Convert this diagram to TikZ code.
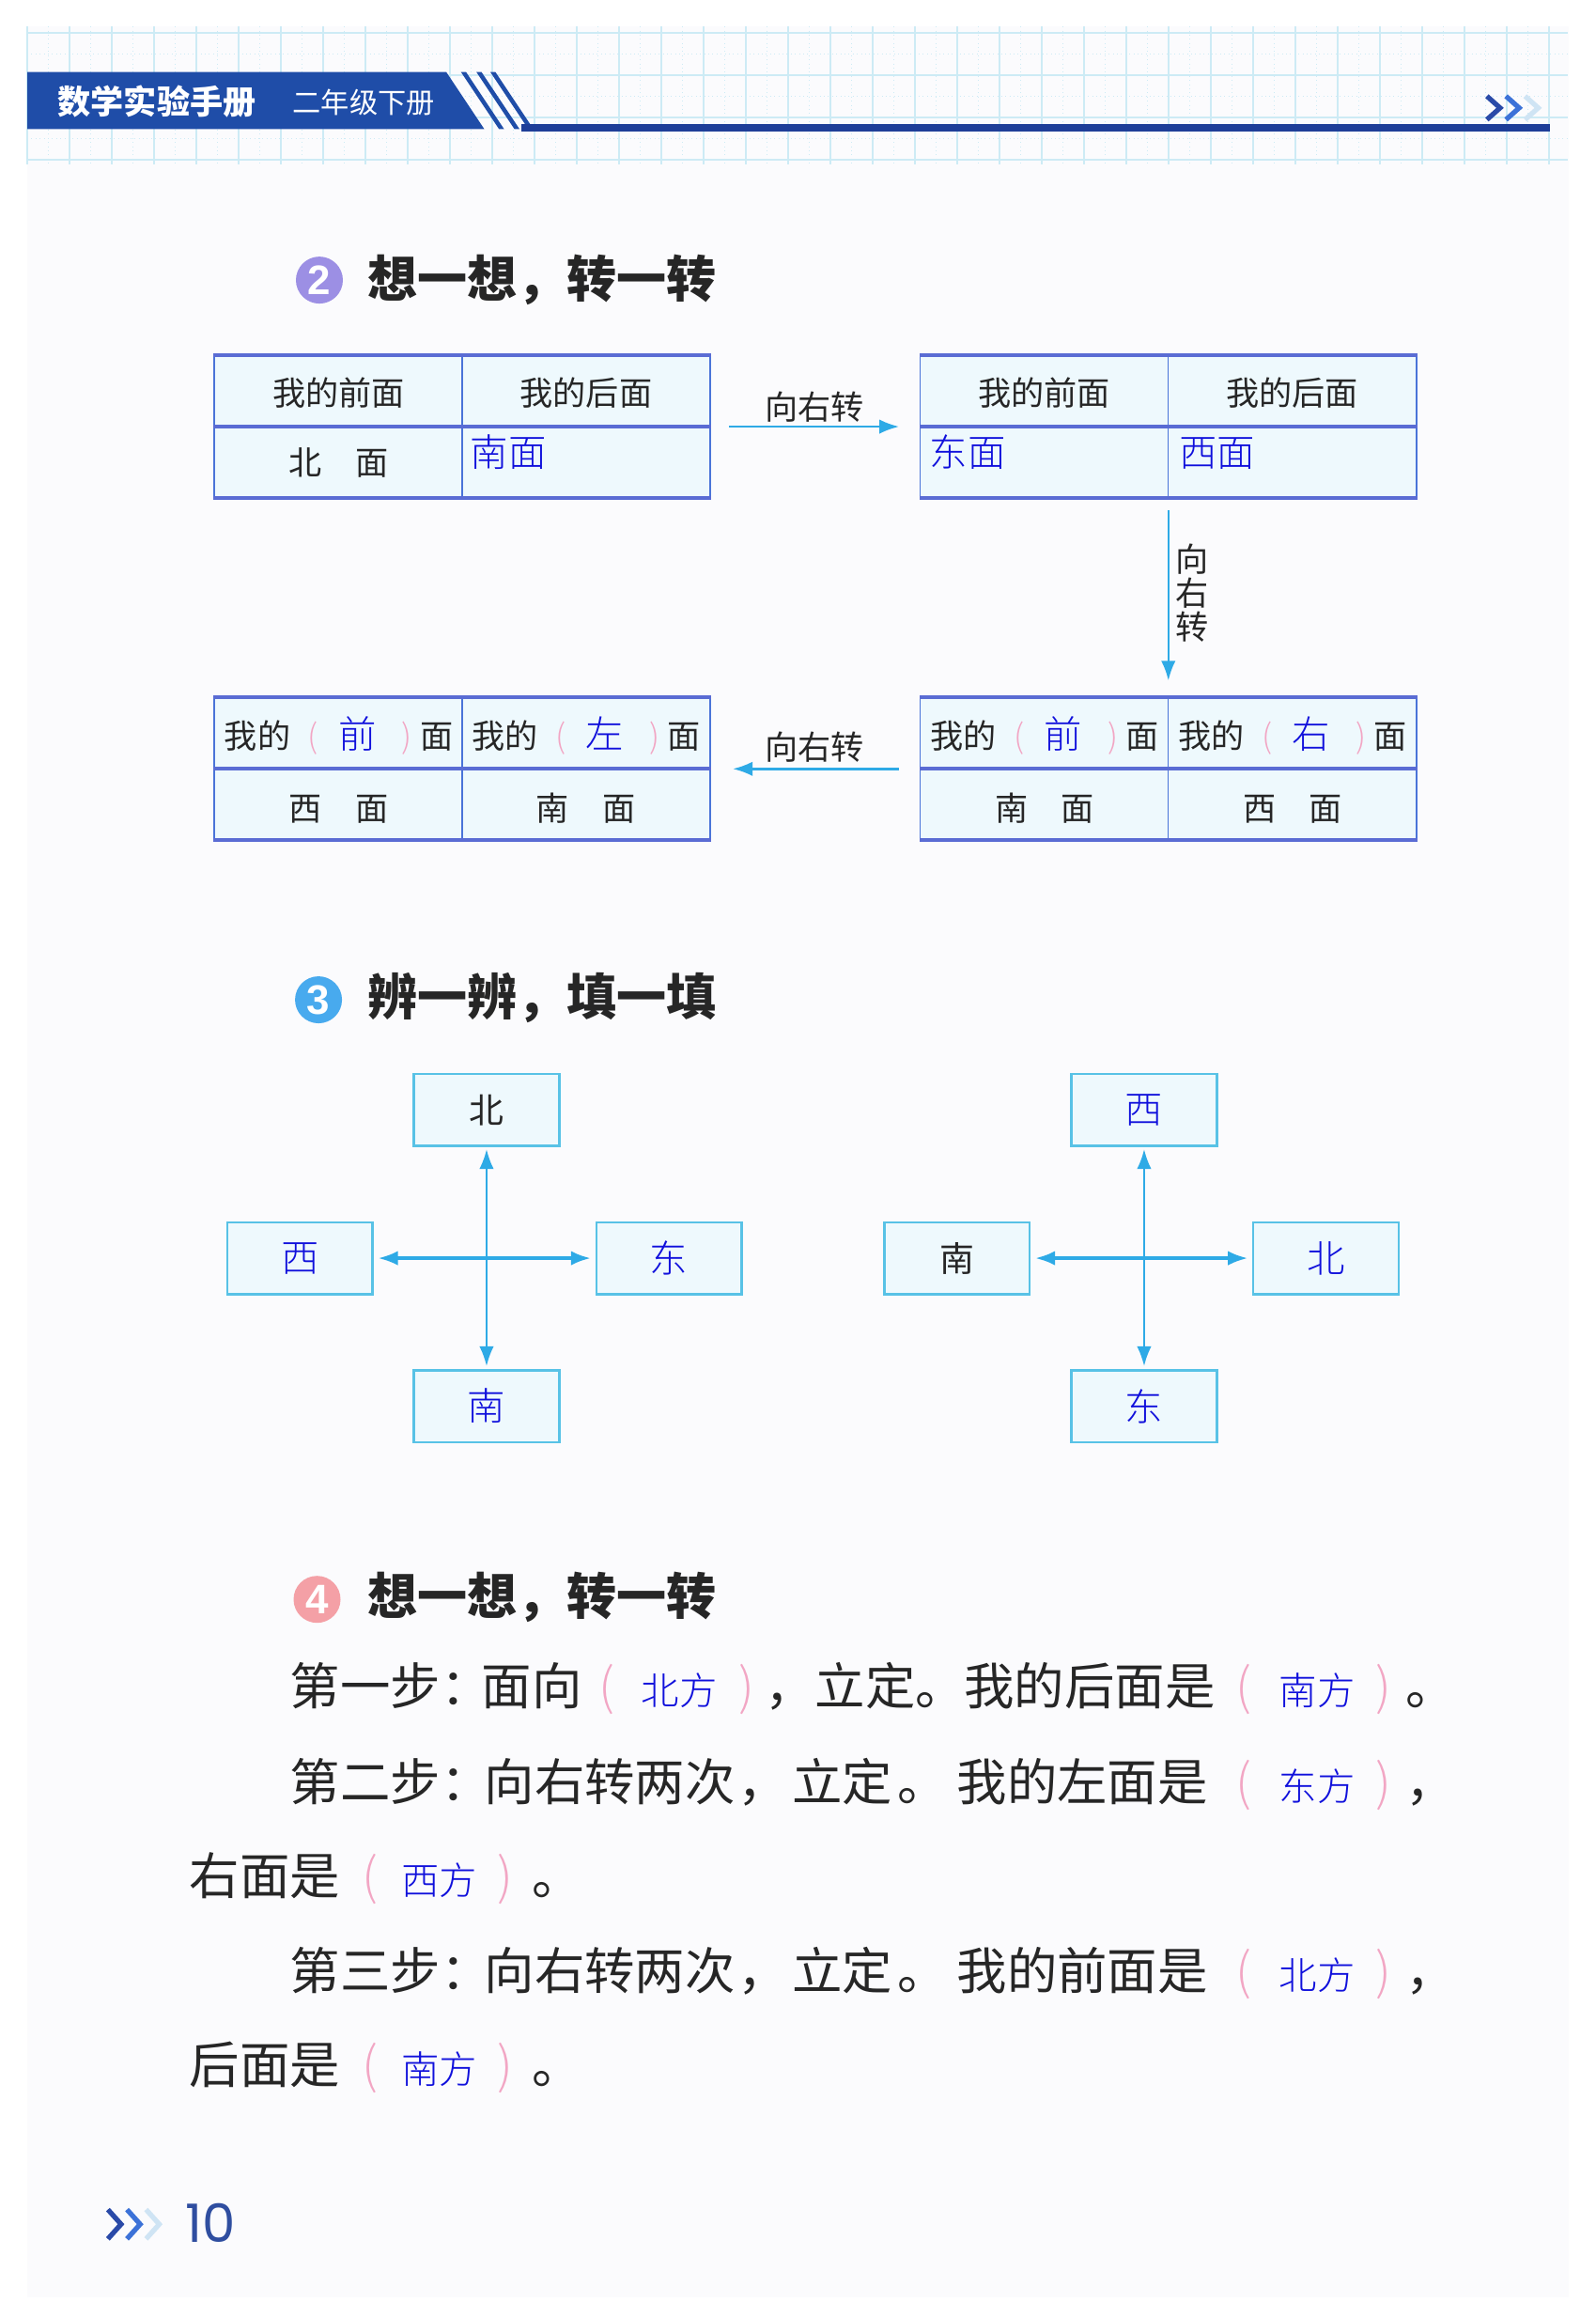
\documentclass[tikz,border=0pt]{standalone}
\usepackage{fontspec}
\setmainfont{Noto Sans CJK SC}
\newfontfamily\ansfont{Noto Sans CJK SC}[UprightFont={* Light}]
\newfontfamily\numfont{Liberation Sans}
\newfontfamily\pagefont{Poppins}
\usetikzlibrary{arrows.meta, calc}

\definecolor{pagebg}{HTML}{FBFBFD}
\definecolor{gridc}{HTML}{CDEBF5}
\definecolor{bandblue}{HTML}{1F4DA8}
\definecolor{bardark}{HTML}{1E3E98}
\definecolor{inkc}{HTML}{262626}
\definecolor{ansblue}{HTML}{1010DC}
\definecolor{parpink}{HTML}{F2A6C4}
\definecolor{tabline}{HTML}{5A6CD4}
\definecolor{tabside}{HTML}{4A74D8}
\definecolor{tabfill}{HTML}{EEF9FD}
\definecolor{arrcyan}{HTML}{2EAAE6}
\definecolor{boxcyan}{HTML}{58C2E6}
\definecolor{dotpurple}{HTML}{9C8FE4}
\definecolor{dotblue}{HTML}{48AAEE}
\definecolor{dotpink}{HTML}{F4A0A6}
\definecolor{pagenum}{HTML}{2F4EA0}
\definecolor{chevA}{HTML}{2A4AA8}
\definecolor{chevB}{HTML}{3C72D8}
\definecolor{chevC}{HTML}{CFE4F4}

\newlength{\unitpx}
\setlength{\unitpx}{0.015621cm}
% slot of fixed width for a piece of text
\newcommand{\seg}[3]{\makebox[#1\unitpx][#2]{#3}}
\newcommand{\ans}[1]{{\ansfont\fontsize{11.5}{12}\selectfont\color{ansblue}#1}}
\newcommand{\paren}[1]{{\ansfont\color{parpink}#1}}
\newcommand{\fillin}[4]{\seg{#1}{c}{\paren{(}}\seg{#2}{c}{\ans{#4}}\seg{#3}{c}{\paren{)}}}
\newcommand{\askcell}[1]{\seg{48}{c}{我的}\seg{28}{c}{\paren{(}}\seg{32}{c}{\ans{#1}}\seg{36}{c}{\paren{)}}\seg{4}{c}{面}}

\begin{document}
\begin{tikzpicture}[
  x=\unitpx, y=-\unitpx,
  every node/.style={text=inkc},
  > = {Latex[length=6pt, width=4.4pt]},
  tablebox/.style={fill=tabfill, draw=tabside, line width=0.4pt,
                   minimum width=338\unitpx, minimum height=96.5\unitpx, inner sep=0pt},
  hline/.style={draw=tabline, line width=1.1pt},
  vline/.style={draw=tabside, line width=0.4pt},
  cell/.style={font=\fontsize{10}{10}\selectfont, inner sep=0pt,
               text height=0.88em, text depth=0.12em},
  turn/.style={->, draw=arrcyan, fill=arrcyan, line width=0.7pt},
  dirbox/.style={draw=boxcyan, fill=tabfill, line width=0.7pt,
                 minimum width=99\unitpx, minimum height=49\unitpx, inner sep=0pt,
                 font=\fontsize{10.5}{10.5}\selectfont},
  dirline/.style={<->, draw=arrcyan, fill=arrcyan, line width=0.6pt},
  numdot/.style={circle, minimum size=32\unitpx, inner sep=0pt, text=white,
                 font=\numfont\bfseries\fontsize{12.5}{12.5}\selectfont},
  heading/.style={anchor=west, inner sep=0pt, font=\bfseries\fontsize{15.1}{15.1}\selectfont,
                  text height=0.88em, text depth=0.12em},
  bodyline/.style={anchor=west, inner sep=0pt, font=\fontsize{15.2}{15.2}\selectfont,
                   text height=0.88em, text depth=0.12em},
  chev/.style={line width=1.5pt, line join=miter}
]
  \useasboundingbox (0,0) rectangle (1087,1568);
  \fill[pagebg] (18.4,18) rectangle (1069,1565);

  % --- header grid ---
  \foreach \k in {0,...,36}
    \draw[gridc, line width=0.35pt] ({18.6+28.8*\k},18) -- ({18.6+28.8*\k},112);
  \foreach \k in {0,...,35}
    \draw[gridc, line width=0.25pt, densely dotted] ({33+28.8*\k},18) -- ({33+28.8*\k},112);
  \foreach \yy in {22.4,51.2,80,108.8}
    \draw[gridc, line width=0.5pt] (18.6,\yy) -- (1068,\yy);
  \foreach \yy in {36.8,65.6,94.4}
    \draw[gridc, line width=0.25pt, densely dotted] (18.6,\yy) -- (1068,\yy);

  % --- header band ---
  \fill[bandblue] (18.6,49) -- (304,49) -- (330,88) -- (18.6,88) -- cycle;
  \foreach \sx in {314,324.5,334}
    \fill[bandblue] (\sx,49) -- ++(3.5,0) -- ++(26,39) -- ++(-3.5,0) -- cycle;
  \fill[bardark] (355,84.5) rectangle (1056,89.5);
  \node[anchor=west, text=white, inner sep=0pt, font=\bfseries\fontsize{10}{10}\selectfont]
    (ttl) at (39,69) {数学实验手册};
  \node[anchor=west, text=white, inner sep=0pt, font=\fontsize{8.6}{8.6}\selectfont]
    (grd) at (199,70) {二年级下册};
  \foreach \cx/\cc in {1013/chevA, 1026/chevB, 1039/chevC}
    \draw[chev, draw=\cc] (\cx,65.5) -- ++(9,8) -- ++(-9,8);

  % --- part 2 ---
  \node[numdot, fill=dotpurple] (d2) at (217.6,190.8) {2};
  \node[heading] (h2) at (250,194) {想一想，转一转};

  \foreach \t/\cx/\cy in {t1/314.8/290.6, t2/796/290.6, t3/796/523.7, t4/314.8/523.7} {
    \node[tablebox] (\t) at (\cx,\cy) {};
    \draw[vline] (\t.north) -- (\t.south);
    \draw[hline] (\t.north west) -- (\t.north east);
    \draw[hline] (\t.west) -- (\t.east);
    \draw[hline] (\t.south west) -- (\t.south east);
  }

  \node[cell] (t1a) at (230.8,267.7) {我的前面};
  \node[cell] (t1b) at (399.3,267.7) {我的后面};
  \node[cell] (t1c) at (230.8,315) {北　面};
  \node[cell, anchor=west] (t1d) at (320,309) {\ans{南面}};

  \node[cell] (t2a) at (711.5,267.7) {我的前面};
  \node[cell] (t2b) at (880.5,267.7) {我的后面};
  \node[cell, anchor=west] (t2c) at (633,309.5) {\ans{东面}};
  \node[cell, anchor=west] (t2d) at (803,309.5) {\ans{西面}};

  \node[cell, anchor=west] (t3a) at (632,501) {\askcell{前}};
  \node[cell, anchor=west] (t3b) at (801,501) {\askcell{右}};
  \node[cell] (t3c) at (711.5,550.6) {南　面};
  \node[cell] (t3d) at (880.5,550.6) {西　面};

  \node[cell, anchor=west] (t4a) at (151,501) {\askcell{前}};
  \node[cell, anchor=west] (t4b) at (319.5,501) {\askcell{左}};
  \node[cell] (t4c) at (230.8,550.6) {西　面};
  \node[cell] (t4d) at (399,550.6) {南　面};

  \draw[turn, shorten <=12.5\unitpx, shorten >=14\unitpx] (t1.east) -- (t2.west);
  \node[cell] (r1) at (555,277) {向右转};
  \draw[turn, shorten <=8.5\unitpx, shorten >=11.4\unitpx] (t2.south) -- (t3.north);
  \node[align=center, inner sep=0pt, font=\fontsize{10}{10.2}\selectfont]
    (r2) at (812,404) {向\\右\\转};
  \draw[turn, shorten <=14\unitpx, shorten >=15\unitpx] (t3.west) -- (t4.east);
  \node[cell] (r3) at (555,509) {向右转};

  % --- part 3 ---
  \node[numdot, fill=dotblue] (d3) at (217,681) {3};
  \node[heading] (h3) at (250,683) {辨一辨，填一填};

  \node[dirbox] (n1) at (331.5,756) {北};
  \node[dirbox] (w1) at (204.3,857) {\ans{西}};
  \node[dirbox] (e1) at (455.8,857) {\ans{东}};
  \node[dirbox] (s1) at (331.5,957.8) {\ans{南}};
  \draw[dirline, shorten <=1.5\unitpx, shorten >=2\unitpx] (n1.south) -- (s1.north);
  \draw[dirline, line width=1pt, shorten <=3\unitpx, shorten >=3\unitpx] (w1.east) -- (e1.west);

  \node[dirbox] (n2) at (779.5,756) {\ans{西}};
  \node[dirbox] (w2) at (652,857) {南};
  \node[dirbox] (e2) at (903.4,857) {\ans{北}};
  \node[dirbox] (s2) at (779.5,957.8) {\ans{东}};
  \draw[dirline, shorten <=1.5\unitpx, shorten >=2\unitpx] (n2.south) -- (s2.north);
  \draw[dirline, line width=1pt, shorten <=3\unitpx, shorten >=3\unitpx] (w2.east) -- (e2.west);

  % --- part 4 ---
  \node[numdot, fill=dotpink] (d4) at (216,1089.4) {4};
  \node[heading] (h4) at (250,1091) {想一想，转一转};

  \node[bodyline] (l1) at (197,1153) {\seg{103}{c}{第一步}\seg{28}{l}{：}\seg{68}{c}{面向}\fillin{34}{65}{26}{北方}\seg{34}{l}{，}\seg{68}{c}{立定}\seg{34}{l}{。}\seg{170}{c}{我的后面是}\fillin{40}{60}{30}{南方}\seg{34}{l}{。}};
  \node[bodyline] (l2) at (197,1218) {\seg{103}{c}{第二步}\seg{28}{l}{：}\seg{174}{c}{向右转两次}\seg{34}{l}{，}\seg{75}{c}{立定}\seg{36}{l}{。}\seg{180}{c}{我的左面是}\fillin{40}{60}{30}{东方}\seg{34}{l}{，}};
  \node[bodyline] (l3) at (129,1282) {\seg{102}{c}{右面是}\fillin{41}{54}{36}{西方}\seg{34}{l}{。}};
  \node[bodyline] (l4) at (197,1346.5) {\seg{103}{c}{第三步}\seg{28}{l}{：}\seg{174}{c}{向右转两次}\seg{34}{l}{，}\seg{75}{c}{立定}\seg{36}{l}{。}\seg{180}{c}{我的前面是}\fillin{40}{60}{30}{北方}\seg{34}{l}{，}};
  \node[bodyline] (l5) at (129,1410.5) {\seg{102}{c}{后面是}\fillin{41}{54}{36}{南方}\seg{34}{l}{。}};

  % --- page number ---
  \foreach \cx/\cc in {73.5/chevA, 86.5/chevB, 99.5/chevC}
    \draw[chev, draw=\cc] (\cx,1505) -- ++(9,10) -- ++(-9,10);
  \node[text=pagenum, inner sep=0pt, font=\pagefont\fontsize{16}{16}\selectfont]
    (pg) at (143.5,1514) {10};
\end{tikzpicture}
\end{document}
